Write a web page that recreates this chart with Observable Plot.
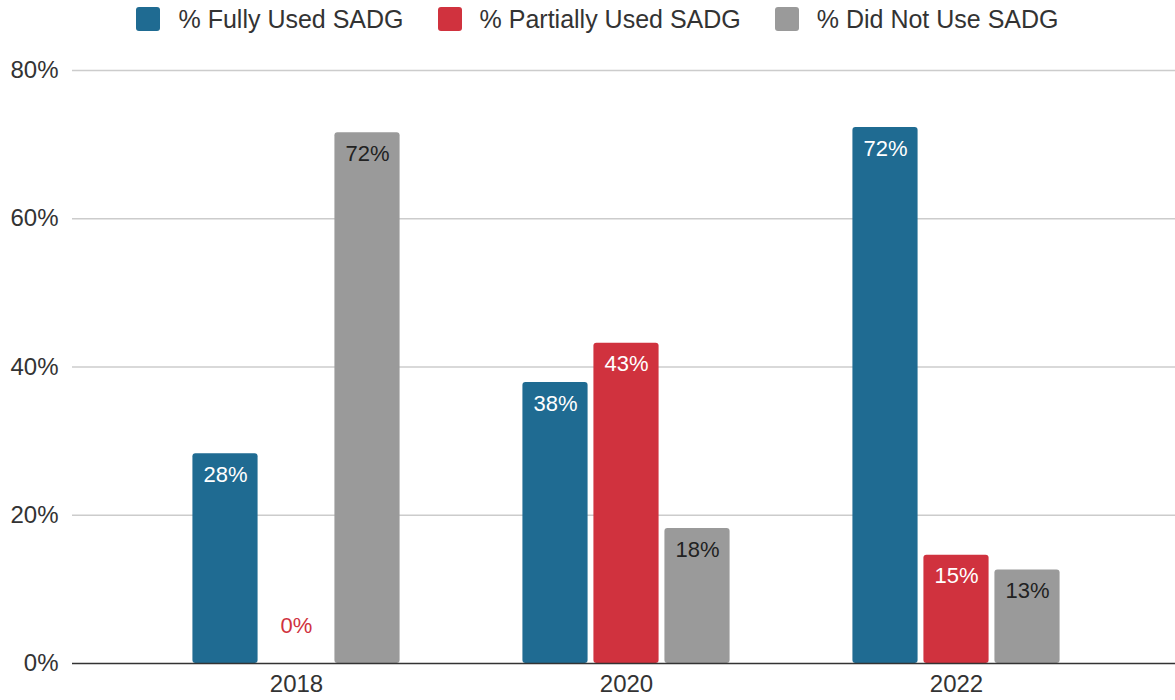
<!DOCTYPE html>
<html>
<head>
<meta charset="utf-8">
<script src="https://cdn.jsdelivr.net/npm/d3@7"></script>
<script src="https://cdn.jsdelivr.net/npm/@observablehq/plot@0.6"></script>
<style>
  html, body { margin: 0; padding: 0; background: #fff; }
  body { width: 1175px; height: 700px; overflow: hidden; font-family: "Liberation Sans", Arial, sans-serif; }
  #legend { height: 38px; display: flex; align-items: center; justify-content: center; padding-left: 20px; box-sizing: border-box; gap: 34px; }
  .item { display: flex; align-items: center; gap: 18px; font-size: 25px; color: #333; }
  .sw { width: 24px; height: 24px; border-radius: 3px; }
  svg text { font-family: "Liberation Sans", Arial, sans-serif; }
</style>
</head>
<body>
<div id="legend"></div>
<div id="chart"></div>
<script>
const years = ["2018", "2020", "2022"];
const seriesNames = ["% Fully Used SADG", "% Partially Used SADG", "% Did Not Use SADG"];
const fullyUsed = [28.3, 37.9, 72.3];
const partiallyUsed = [0, 43.2, 14.6];
const didNotUse = [71.6, 18.2, 12.6];
const yTicks = [0, 20, 40, 60, 80];
const colors = ["#1f6b92", "#d0323e", "#9a9a9a"];
const labelColors = ["#ffffff", "#ffffff", "#222222"];

const seriesValues = [fullyUsed, partiallyUsed, didNotUse];
const rows = [];
seriesValues.forEach((vals, si) => {
  years.forEach((yr, i) => rows.push({year: yr, series: seriesNames[si], si, value: vals[i]}));
});

// legend
const legend = document.getElementById("legend");
seriesNames.forEach((n, i) => {
  const it = document.createElement("div");
  it.className = "item";
  it.innerHTML = `<div class="sw" style="background:${colors[i]}"></div><span>${n}</span>`;
  legend.appendChild(it);
});

const xRange = [130, 1122.5];
const bw = (xRange[1] - xRange[0]) / years.length;
const barW = 66, step = 71;
const marks = [
  Plot.ruleY(yTicks.filter(d => d > 0), {stroke: "#cccccc", strokeWidth: 1.3})
];
seriesNames.forEach((name, si) => {
  const data = rows.filter(r => r.si === si);
  const off = (si - 1) * step; // center offset of this series bar
  const left = bw / 2 + off - barW / 2;
  marks.push(Plot.barY(data, {
    x: "year", y: "value", fill: colors[si], rx: 3,
    insetLeft: left, insetRight: bw - left - barW
  }));
  marks.push(Plot.text(data.filter(d => d.value > 0), {
    x: "year", y: "value", text: d => Math.round(d.value) + "%",
    dx: off, dy: 21, fill: labelColors[si], fontSize: 22
  }));
  marks.push(Plot.text(data.filter(d => d.value === 0), {
    x: "year", y: "value", text: d => Math.round(d.value) + "%",
    dx: off, dy: -38, fill: colors[si], fontSize: 22
  }));
});
marks.push(Plot.ruleY([0], {stroke: "#333", strokeWidth: 1.6}));

const chart = Plot.plot({
  width: 1175,
  height: 662,
  marginTop: 32,
  marginBottom: 37,
  marginLeft: 72,
  marginRight: 0,
  style: {fontFamily: "'Liberation Sans', Arial, sans-serif", fontSize: "24px", color: "#333", background: "#fff"},
  x: {type: "band", domain: years, range: xRange, padding: 0, label: null, tickSize: 0, tickPadding: 11},
  y: {domain: [0, 80], ticks: yTicks, tickFormat: d => d + "%", label: null, tickSize: 0, tickPadding: 14},
  marks
});
document.getElementById("chart").appendChild(chart);
</script>
</body>
</html>
